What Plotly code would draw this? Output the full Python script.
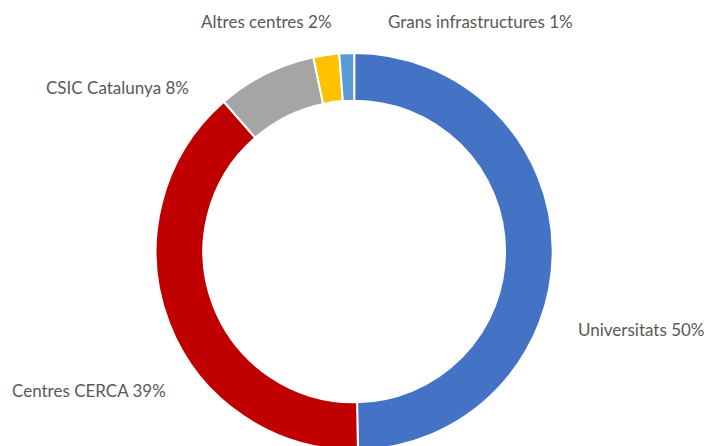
import plotly.graph_objects as go

labels = ["Universitats", "Centres CERCA", "CSIC Catalunya", "Altres centres", "Grans infrastructures"]
values = [49.7, 38.9, 8.1, 2.1, 1.2]
colors = ["#4472C4", "#C00000", "#A5A5A5", "#FFC000", "#5B9BD5"]

# label anchor positions in pixels (x center, y center from top)
label_pos = [(641, 329), (89, 390), (117, 88), (266, 21), (480, 21)]

W, H = 710, 452
CX, CY, R = 354.2, 251.5, 198.5
fig = go.Figure(go.Pie(
    labels=labels, values=values, sort=False, direction="clockwise", rotation=0,
    hole=0.76, textinfo="none", hoverinfo="label+percent",
    marker=dict(colors=colors, line=dict(color="white", width=2)),
    domain=dict(x=[(CX - R) / W, (CX + R) / W], y=[(H - CY - R) / H, (H - CY + R) / H]),
    showlegend=False,
))

for lab, val, (px, py) in zip(labels, values, label_pos):
    fig.add_annotation(
        text=f"{lab} {round(val)}%", x=px / W, y=1 - py / H, xref="paper", yref="paper",
        xanchor="center", yanchor="middle", showarrow=False,
        font=dict(family="Lato, Open Sans, sans-serif", size=17, color="#595959"),
    )

fig.update_layout(width=W, height=H, margin=dict(l=0, r=0, t=0, b=0),
                  paper_bgcolor="white", plot_bgcolor="white")
fig.write_html(
    "out.html",
    config={"displayModeBar": False},
    post_script="document.body.style.margin='0';document.body.style.overflow='hidden';"
                "document.documentElement.style.overflow='hidden';",
)
